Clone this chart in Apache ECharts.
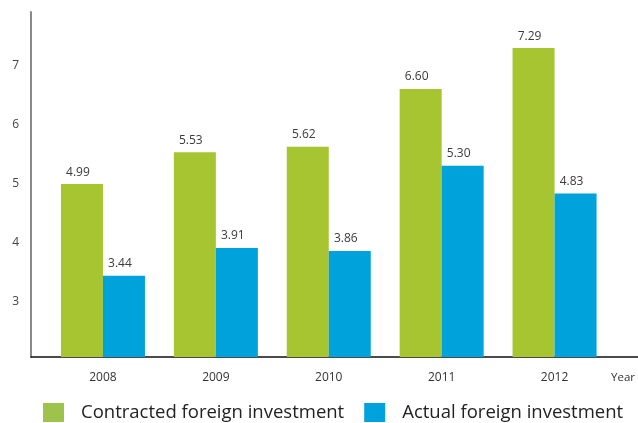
<!DOCTYPE html>
<html>
<head>
<meta charset="utf-8">
<script src="https://cdn.jsdelivr.net/npm/echarts@6/dist/echarts.min.js"></script>
<style>
  html, body { margin: 0; padding: 0; background: #fff; }
  #chart { width: 638px; height: 423px; }
</style>
</head>
<body>
<div id="chart"></div>
<script>
// Foreign investment by year (USD 100 million)
const years = ['2008', '2009', '2010', '2011', '2012'];
const contracted = [4.99, 5.53, 5.62, 6.60, 7.29];
const actual = [3.44, 3.91, 3.86, 5.30, 4.83];
const yTicks = [3, 4, 5, 6, 7];
const seriesNames = ['Contracted foreign investment', 'Actual foreign investment'];

const FONT = '"Open Sans", "Noto Sans", sans-serif';
const GREEN = '#A6C530';
const BLUE = '#00A2DC';
const Y_MIN = 2.067;
const Y_MAX = 7.9;

const chart = echarts.init(document.getElementById('chart'), null, { renderer: 'canvas' });

const barLabel = {
  show: true,
  position: 'top',
  distance: 6,
  offset: [-4, 0],
  color: '#3a3a3a',
  fontFamily: FONT,
  fontSize: 12,
  formatter: p => p.value.toFixed(2)
};

chart.setOption({
  animation: false,
  backgroundColor: '#fff',
  grid: [
    // frame: y axis line and full-width baseline
    { left: 31, right: 0, top: 12, bottom: 66 },
    // plotting area for the grouped bars
    { left: 46.5, width: 565, top: 12, bottom: 66 }
  ],
  xAxis: [
    {
      gridIndex: 0, type: 'value', min: 0, max: 1,
      axisLine: { show: true, lineStyle: { color: '#111', width: 1.5 } },
      axisTick: { show: false }, axisLabel: { show: false }, splitLine: { show: false }
    },
    {
      gridIndex: 1, type: 'category', data: years,
      axisLine: { show: false }, axisTick: { show: false },
      axisLabel: { color: '#333', fontFamily: FONT, fontSize: 12, margin: 15 },
      name: 'Year', nameLocation: 'end', nameGap: 0,
      nameTextStyle: { color: '#333', fontFamily: FONT, fontSize: 11.5, align: 'left', verticalAlign: 'top', padding: [15, 0, 0, 0] }
    }
  ],
  yAxis: [
    {
      gridIndex: 0, type: 'value', min: Y_MIN, max: Y_MAX,
      axisLine: { show: true, lineStyle: { color: '#8a8a8a', width: 2 } },
      axisTick: { show: false },
      splitLine: { show: false },
      axisLabel: { customValues: yTicks, color: '#444', fontFamily: FONT, fontSize: 12, margin: 12 }
    },
    {
      gridIndex: 1, type: 'value', min: Y_MIN, max: Y_MAX, show: false,
      splitLine: { show: false }
    }
  ],
  legend: {
    left: 43, top: 403, padding: 0,
    itemWidth: 21, itemHeight: 19, itemGap: 20,
    icon: 'rect',
    textStyle: { color: '#222', fontFamily: FONT, fontSize: 18.5, padding: [0, 0, 0, 12] },
    data: [
      { name: seriesNames[0], itemStyle: { color: '#9DC34C' } },
      { name: seriesNames[1], itemStyle: { color: '#00A2DE' } }
    ]
  },
  series: [
    {
      name: seriesNames[0], type: 'bar', xAxisIndex: 1, yAxisIndex: 1,
      data: contracted, barWidth: 42, barGap: '0%',
      itemStyle: { color: GREEN }, label: barLabel
    },
    {
      name: seriesNames[1], type: 'bar', xAxisIndex: 1, yAxisIndex: 1,
      data: actual, barWidth: 42, barGap: '0%',
      itemStyle: { color: BLUE }, label: barLabel
    }
  ]
});
</script>
</body>
</html>
